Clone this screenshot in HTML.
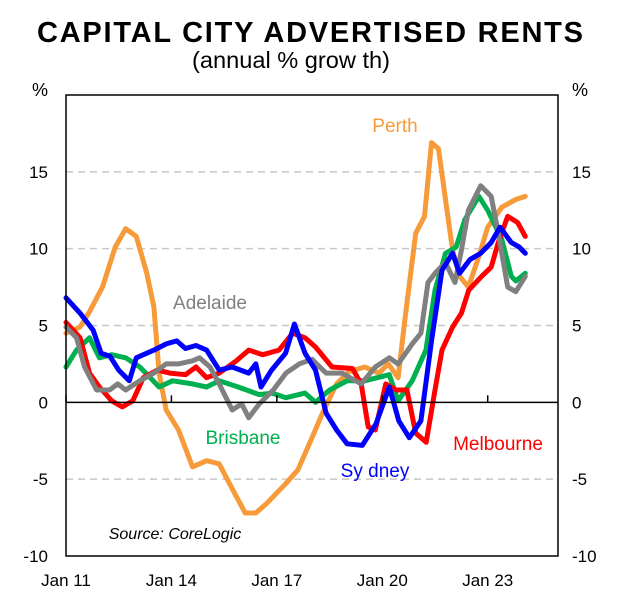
<!DOCTYPE html>
<html><head><meta charset="utf-8"><style>
body{margin:0;background:#fff;}
svg text{font-family:"Liberation Sans",Arial,sans-serif;}
</style></head><body>
<svg width="621" height="599" viewBox="0 0 621 599">
<text x="310" y="42" text-anchor="middle" font-size="29" font-weight="bold" textLength="546" lengthAdjust="spacing">CAPITAL CITY ADVERTISED RENTS</text>
<text x="291" y="68" text-anchor="middle" font-size="23" textLength="198" lengthAdjust="spacingAndGlyphs">(annual % grow th)</text>
<text x="40" y="96" text-anchor="middle" font-size="18">%</text>
<text x="580" y="96" text-anchor="middle" font-size="18">%</text>
<g id="grid"></g>
<g id="series"></g>
<rect x="66" y="95" width="492" height="461" fill="none" stroke="#000" stroke-width="1.5"/>
<g id="axes"></g>
<text x="395" y="132" text-anchor="middle" font-size="19" fill="#f79a3a">Perth</text>
<text x="210" y="309" text-anchor="middle" font-size="19" fill="#7f7f7f">Adelaide</text>
<text x="243" y="444" text-anchor="middle" font-size="19" fill="#00b050">Brisbane</text>
<text x="375" y="477" text-anchor="middle" font-size="19" fill="#0000ff">Sy dney</text>
<text x="498" y="450" text-anchor="middle" font-size="19" fill="#ff0000">Melbourne</text>
<text x="175" y="539" text-anchor="middle" font-size="16" font-style="italic">Source:  CoreLogic</text>
</svg>
<script>
const yTicks=[-10,-5,0,5,10,15];
const xTickYears=[2011,2014,2017,2020,2023];
const xTickLabels=["Jan 11","Jan 14","Jan 17","Jan 20","Jan 23"];
const perthX=[2011,2011.4,2011.67,2012.04,2012.4,2012.7,2013,2013.3,2013.5,2013.65,2013.85,2014.2,2014.6,2015,2015.36,2015.7,2016.1,2016.4,2016.7,2017.25,2017.6,2018,2018.3,2018.7,2019.05,2019.5,2019.9,2020.17,2020.45,2020.65,2020.95,2021.2,2021.4,2021.6,2021.8,2022,2022.2,2022.45,2022.75,2023,2023.4,2023.8,2024.07];
const perthY=[4.5,4.9,5.9,7.5,10.1,11.3,10.8,8.4,6.2,1.9,-0.5,-1.8,-4.2,-3.8,-4,-5.5,-7.2,-7.2,-6.6,-5.3,-4.4,-2.3,-0.7,1.2,2,2.3,1.9,2.5,1.6,5.5,11,12.1,16.9,16.5,13.2,9.9,8.2,7.5,9.5,11.4,12.7,13.2,13.4];
const sydX=[2011,2011.4,2011.77,2012,2012.25,2012.5,2012.8,2013,2013.5,2013.85,2014.15,2014.4,2014.7,2015,2015.36,2015.73,2016.2,2016.4,2016.55,2016.85,2017.25,2017.5,2017.8,2018.1,2018.4,2018.7,2019,2019.43,2019.82,2020.2,2020.47,2020.77,2021.1,2021.4,2021.7,2022,2022.2,2022.5,2022.8,2023.1,2023.35,2023.67,2023.9,2024.07];
const sydY=[6.8,5.8,4.7,3.2,3,2.1,1.4,2.9,3.4,3.8,4,3.5,3.7,3.4,2.1,2.3,1.9,2.5,1,2.1,3.2,5.1,3.2,2.1,-0.7,-1.8,-2.7,-2.8,-1.4,1,-1.2,-2.3,-1.2,4,8.6,9.7,8.4,9.3,9.7,10.4,11.4,10.4,10.1,9.7];
const melX=[2011,2011.4,2011.67,2011.95,2012.3,2012.6,2012.9,2013.2,2013.6,2013.95,2014.4,2014.7,2015,2015.36,2015.85,2016.2,2016.6,2017.06,2017.45,2017.8,2018.1,2018.57,2019.15,2019.4,2019.6,2019.8,2020.1,2020.4,2020.7,2020.95,2021.25,2021.5,2021.7,2022,2022.25,2022.46,2022.83,2023.1,2023.3,2023.57,2023.85,2024.07];
const melY=[5.2,4.2,1.9,1,0.1,-0.3,0.1,1.6,2.1,1.9,1.8,2.3,1.6,1.9,2.7,3.4,3.1,3.4,4.5,4.2,3.6,2.3,2.2,1.2,-1.6,-1.8,1.2,0.8,0.8,-2,-2.6,0.8,3.4,4.9,5.8,7.3,8.2,8.8,10.4,12.1,11.7,10.8];
const brisX=[2011,2011.3,2011.67,2011.95,2012.3,2012.7,2013.1,2013.4,2013.65,2014.03,2014.6,2015,2015.36,2015.9,2016.5,2016.87,2017.26,2017.8,2018.1,2018.5,2019,2019.5,2020.2,2020.45,2020.85,2021.24,2021.5,2021.8,2022.1,2022.35,2022.75,2023,2023.4,2023.67,2023.8,2024.07];
const brisY=[2.3,3.4,4.2,2.9,3.1,2.9,2.3,1.6,1,1.4,1.2,1,1.4,1,0.5,0.6,0.3,0.6,0,0.8,1.4,1.4,1.8,0.1,1.4,3.4,7.3,9.7,10.1,11.9,13.4,12.5,10.6,8.2,7.9,8.4];
const adlX=[2011,2011.3,2011.53,2011.87,2012.24,2012.47,2012.7,2013.1,2013.5,2013.85,2014.2,2014.6,2014.8,2015.1,2015.36,2015.73,2016,2016.2,2016.5,2016.9,2017.26,2017.64,2018,2018.4,2018.85,2019.4,2019.8,2020.2,2020.45,2020.85,2021.1,2021.3,2021.5,2021.8,2022.07,2022.25,2022.45,2022.8,2023.1,2023.3,2023.57,2023.8,2024.07];
const adlY=[4.9,4.2,2.3,0.8,0.8,1.2,0.8,1.4,1.9,2.5,2.5,2.7,2.9,2.3,1.2,-0.5,-0.1,-1,-0.1,0.8,1.9,2.5,2.8,1.9,1.9,1.2,2.3,2.9,2.5,3.8,4.5,7.8,8.4,9.1,7.8,9.9,12.5,14.1,13.4,11,7.5,7.2,8.2];
const L=66,R=558,T=95,B=556,X0=2011,X1=2025,Y0=-10,Y1=20;
const sx=v=>L+(v-X0)/(X1-X0)*(R-L);
const sy=v=>B-(v-Y0)/(Y1-Y0)*(B-T);
const NS="http://www.w3.org/2000/svg";
function mk(tag,attrs,parent){const e=document.createElementNS(NS,tag);for(const k in attrs)e.setAttribute(k,attrs[k]);parent.appendChild(e);return e;}
const grid=document.getElementById('grid'),axes=document.getElementById('axes'),ser=document.getElementById('series');
yTicks.forEach(t=>{
  if(t!==0&&t!==Y0){const g=mk('line',{x1:L,x2:R,y1:sy(t),y2:sy(t),stroke:'#c8c8c8','stroke-width':1.5,'stroke-dasharray':'7,5'},grid);
  
  }
  const a=mk('text',{x:48,y:sy(t)+6,'text-anchor':'end','font-size':17},axes);a.textContent=t;
  
  
  const b=mk('text',{x:572,y:sy(t)+6,'text-anchor':'start','font-size':17},axes);b.textContent=t;
  
  
});
const z=mk('line',{x1:L,x2:R,y1:sy(0),y2:sy(0),stroke:'#000','stroke-width':1.5},axes);


xTickYears.forEach((yr,i)=>{
  const tk=mk('line',{x1:sx(yr),x2:sx(yr),y1:sy(0),y2:sy(0)-7,stroke:'#000','stroke-width':1.5},axes);
  
  
  const tx=mk('text',{x:sx(yr),y:586,'text-anchor':'middle','font-size':17},axes);tx.textContent=xTickLabels[i];
  
  
});
function line(xs,ys,color,name){
  const d=xs.map((x,i)=>(i?'L':'M')+sx(x).toFixed(1)+','+sy(ys[i]).toFixed(1)).join('');
  const p=mk('path',{d:d,fill:'none',stroke:color,'stroke-width':5,'stroke-linejoin':'round','stroke-linecap':'round'},ser);
  
  
}
line(perthX,perthY,'#f79a3a','perth-line');
line(brisX,brisY,'#00b050','brisbane-line');
line(melX,melY,'#ff0000','melbourne-line');
line(adlX,adlY,'#808080','adelaide-line');
line(sydX,sydY,'#0000ff','sydney-line');
</script>
</body></html>
